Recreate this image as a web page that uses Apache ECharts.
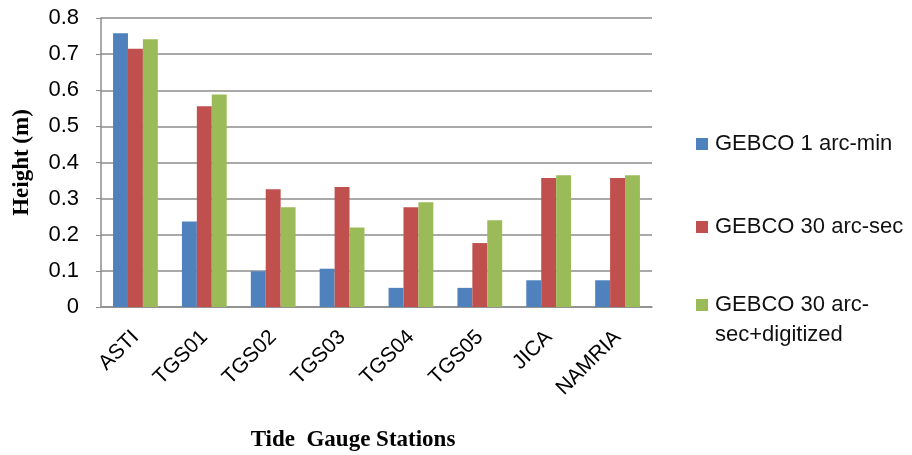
<!DOCTYPE html>
<html>
<head>
<meta charset="utf-8">
<script src="https://cdn.jsdelivr.net/npm/echarts@6/dist/echarts.min.js"></script>
<style>
  html, body { margin: 0; padding: 0; background: #fff; }
  #chart { width: 912px; height: 455px; }
</style>
</head>
<body>
<div id="chart"></div>
<script>
// stations on the x axis
const stations = ['ASTI', 'TGS01', 'TGS02', 'TGS03', 'TGS04', 'TGS05', 'JICA', 'NAMRIA'];
const seriesNames = ['GEBCO 1 arc-min', 'GEBCO 30 arc-sec', 'GEBCO 30 arc-sec+digitized'];
// heights (m)
const gebco1min = [0.758, 0.237, 0.099, 0.106, 0.053, 0.053, 0.074, 0.074];
const gebco30sec = [0.715, 0.556, 0.326, 0.332, 0.276, 0.177, 0.357, 0.357];
const gebco30secDig = [0.741, 0.588, 0.276, 0.220, 0.290, 0.240, 0.365, 0.365];
const colors = ['#4F81BD', '#C0504D', '#9BBB59'];

const chart = echarts.init(document.getElementById('chart'));

const legendText = {
    fontFamily: 'Liberation Sans, Arial, sans-serif',
    fontSize: 22,
    color: '#111',
    lineHeight: 30,
    padding: [0, 0, 0, 2]
};
function legendAt(name, top) {
    return {
        data: [name],
        orient: 'vertical',
        left: 691,
        top: top,
        icon: 'rect',
        itemWidth: 12,
        itemHeight: 12,
        textStyle: legendText,
        selectedMode: false,
        formatter: function (n) {
            // put the square on the first line of the wrapped name
            return n === seriesNames[2] ? ' \nGEBCO 30 arc-\nsec+digitized' : n;
        }
    };
}

chart.setOption({
    animation: false,
    title: {
        text: 'Tide  Gauge Stations',
        left: 348,
        top: 424,
        textAlign: 'center',
        textStyle: {
            fontFamily: 'Liberation Serif, Times New Roman, serif',
            fontWeight: 'bold',
            fontSize: 23,
            color: '#000'
        }
    },
    legend: [
        legendAt(seriesNames[0], 124),
        legendAt(seriesNames[1], 207),
        legendAt(seriesNames[2], 255)
    ],
    grid: {
        left: 101,
        right: 260,
        top: 18,
        bottom: 148
    },
    xAxis: {
        type: 'category',
        data: stations,
        axisTick: { show: false },
        axisLine: { lineStyle: { color: '#8c8c8c', width: 1.5 } },
        axisLabel: {
            rotate: 45,
            margin: 27,
            interval: 0,
            fontFamily: 'Liberation Sans, Arial, sans-serif',
            fontSize: 21,
            color: '#000'
        }
    },
    yAxis: {
        type: 'value',
        min: 0,
        max: 0.8,
        interval: 0.1,
        name: 'Height (m)',
        nameLocation: 'middle',
        nameGap: 67,
        nameTextStyle: {
            fontFamily: 'Liberation Serif, Times New Roman, serif',
            fontWeight: 'bold',
            fontSize: 23,
            color: '#000'
        },
        axisLine: { show: true, lineStyle: { color: '#8c8c8c', width: 1.5 } },
        axisTick: { show: true, length: 5, lineStyle: { color: '#8c8c8c' } },
        splitLine: { lineStyle: { color: '#8c8c8c', width: 1.5 } },
        axisLabel: {
            margin: 22,
            fontFamily: 'Liberation Sans, Arial, sans-serif',
            fontSize: 22,
            color: '#000',
            formatter: function (v) { return v === 0 ? '0' : v.toFixed(1); }
        }
    },
    series: [gebco1min, gebco30sec, gebco30secDig].map(function (d, i) {
        return {
            name: seriesNames[i],
            type: 'bar',
            data: d,
            barGap: '0%',
            barCategoryGap: '35%',
            itemStyle: { color: colors[i] }
        };
    })
});
</script>
</body>
</html>
